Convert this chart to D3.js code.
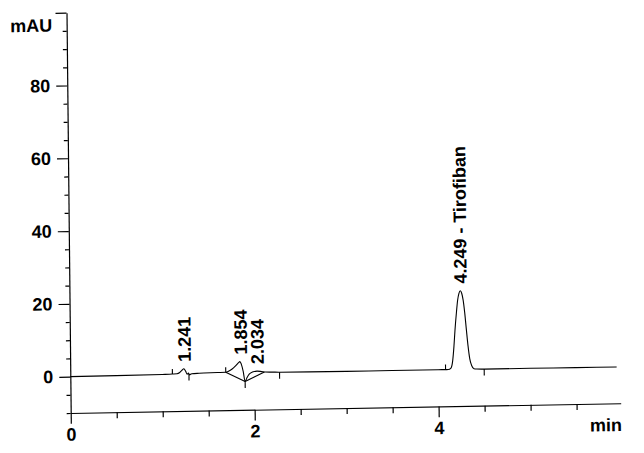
<!DOCTYPE html>
<html>
<head>
<meta charset="utf-8">
<script src="https://cdn.jsdelivr.net/npm/d3@7"></script>
<style>
  html, body { margin: 0; padding: 0; background: #fff; }
  svg { display: block; }
  text { font-family: "Liberation Sans", Arial, Helvetica, sans-serif; font-weight: bold; fill: #000; }
</style>
</head>
<body>
<svg id="chart" width="644" height="453"></svg>
<script>
// ---- data ----
const traceTime = [0,0.5,1.0,1.11,1.16,1.19,1.215,1.235,1.255,1.27,1.285,1.295,1.32,1.40,1.60,1.69,1.72,1.76,1.80,1.83,1.845,1.86,1.88,1.90,1.92,1.945,1.98,2.03,2.08,2.12,2.20,2.275,2.6,3.0,3.5,4.0,4.08,4.109,4.139,4.159,4.174,4.187,4.204,4.219,4.234,4.249,4.264,4.279,4.294,4.311,4.327,4.344,4.364,4.389,4.419,4.50,5.0,5.5,5.94];
const traceMAU  = [0,0.05,0.15,0.2,0.25,0.6,1.2,1.6,0.9,0.1,0.4,-0.1,0.2,0.3,0.4,0.45,0.7,1.3,2.2,3.0,3.3,2.6,0.6,-2.2,-1.2,-0.2,0.35,0.6,0.45,0.3,0.25,0.2,0.15,0.1,0.1,0.1,0.1,0.1,0.5,2.6,6.5,10.9,15.6,19.1,21.0,21.7,21.0,19.1,15.8,10.9,6.5,3.0,1.1,0.2,0.1,0.05,0.05,0,0];

const peakTimes  = [1.241, 1.854, 2.034, 4.249];
const peakLabels = ["1.241", "1.854", "2.034", "4.249 - Tirofiban"];

const delimTimes = [1.11, 1.29, 1.69, 1.90, 2.275, 4.08, 4.50];
const delimDirs  = ["up", "down", "up", "down", "down", "up", "down"];

const baselineStarts = [1.69, 1.90];
const baselineEnds   = [1.90, 2.11];

const xMajorTicks = [0, 2, 4];
const xMinorTicks = [0.5, 1, 1.5, 2.5, 3, 3.5, 4.5, 5, 5.5];
const yMajorTicks = [0, 20, 40, 60, 80, 100];
const yMajorLabels = ["0", "20", "40", "60", "80", ""];
const yMinorTicks = [-10, -5, 5, 10, 15, 25, 30, 35, 45, 50, 55, 65, 70, 75, 85, 90, 95];
const xUnit = "min";
const yUnit = "mAU";

// ---- drawing ----
const svg = d3.select("#chart");
const FS = 18;
// the whole plot is slightly tilted in the reference
const g = svg.append("g").attr("transform", "matrix(1,-0.0177,0.0105,1,70.7,413)");

const x = d3.scaleLinear().domain([0, 5.98]).range([0, 550]);
const y = d3.scaleLinear().domain([-10, 100]).range([0, -400.3]);

const trace = traceTime.map((t, i) => ({ t, v: traceMAU[i] }));
const bis = d3.bisector(d => d.t).left;
function valueAt(t) {
  let i = bis(trace, t);
  if (i <= 0) return trace[0].v;
  if (i >= trace.length) return trace[trace.length - 1].v;
  const a = trace[i - 1], b = trace[i];
  return a.v + (b.v - a.v) * (t - a.t) / (b.t - a.t);
}

function styleAxis(sel) {
  sel.select(".domain").attr("stroke", "#000").attr("stroke-width", 1.2);
  sel.selectAll(".tick line").attr("stroke", "#000").attr("stroke-width", 1.2);
  sel.selectAll("text").attr("font-size", FS).attr("font-family", null).attr("font-weight", "bold");
  sel.attr("font-family", null).attr("font-size", null);
}

// y axis
const yMajor = g.append("g").call(
  d3.axisLeft(y).tickValues(yMajorTicks).tickSize(11).tickSizeOuter(0).tickPadding(6)
    .tickFormat((d, i) => yMajorLabels[i]));
styleAxis(yMajor);
const yMinor = g.append("g").call(
  d3.axisLeft(y).tickValues(yMinorTicks).tickSize(4).tickSizeOuter(0).tickFormat(""));
styleAxis(yMinor);
yMinor.select(".domain").remove();

// x axis
const xMajor = g.append("g").call(
  d3.axisBottom(x).tickValues(xMajorTicks).tickSize(10.7).tickSizeOuter(0).tickPadding(4.2)
    .tickFormat(d3.format("d")));
styleAxis(xMajor);
const xMinor = g.append("g").call(
  d3.axisBottom(x).tickValues(xMinorTicks).tickSize(6).tickSizeOuter(0).tickFormat(""));
styleAxis(xMinor);
xMinor.select(".domain").remove();

// axis unit labels
g.append("text").attr("x", x(5.98) + 1).attr("y", 27.7).attr("text-anchor", "end")
  .attr("font-size", FS).text(xUnit);
g.append("text").attr("x", -14.5).attr("y", y(100) + 18.5).attr("text-anchor", "end")
  .attr("font-size", FS).text(yUnit);

// chromatogram trace
g.append("path").datum(trace)
  .attr("fill", "none").attr("stroke", "#000").attr("stroke-width", 1.1)
  .attr("stroke-linejoin", "round")
  .attr("d", d3.line().x(d => x(d.t)).y(d => y(d.v)).curve(d3.curveMonotoneX));

// integration baselines
g.selectAll(".bl").data(baselineStarts.map((s, i) => [s, baselineEnds[i]]))
  .join("line").attr("class", "bl")
  .attr("x1", d => x(d[0])).attr("y1", d => y(valueAt(d[0])))
  .attr("x2", d => x(d[1])).attr("y2", d => y(valueAt(d[1])))
  .attr("stroke", "#000").attr("stroke-width", 1.1);

// peak delimiters
g.selectAll(".dl").data(delimTimes.map((t, i) => ({ t, dir: delimDirs[i] })))
  .join("line").attr("class", "dl")
  .attr("x1", d => x(d.t)).attr("x2", d => x(d.t))
  .attr("y1", d => y(valueAt(d.t)))
  .attr("y2", d => y(valueAt(d.t)) + (d.dir === "up" ? -5 : 6.5))
  .attr("stroke", "#000").attr("stroke-width", 1.1);

// peak labels
const labs = peakTimes.map((t, i) => {
  const vmax = d3.max(d3.range(-0.02, 0.0201, 0.005), dt => valueAt(t + dt));
  return { t, text: peakLabels[i], v: vmax };
});
g.selectAll(".pl").data(labs).join("text").attr("class", "pl")
  .attr("font-size", FS)
  .attr("transform", d => `translate(${x(d.t)},${y(d.v) - 7}) rotate(-90)`)
  .attr("dy", "0.36em")
  .text(d => d.text);
</script>
</body>
</html>
